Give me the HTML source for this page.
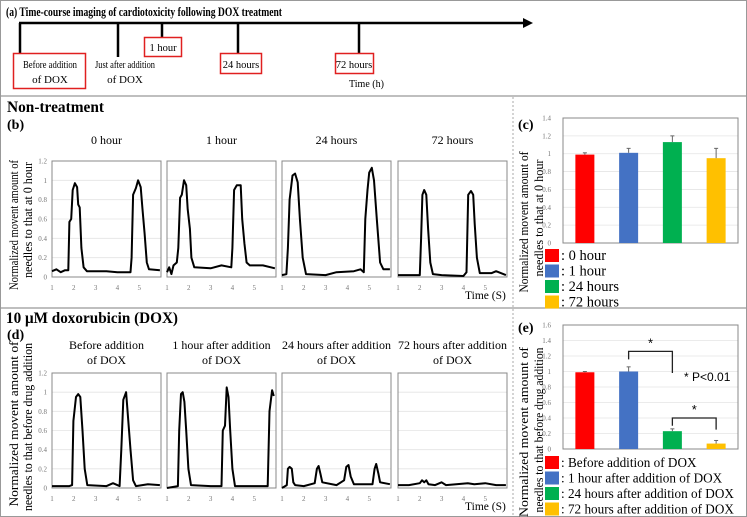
<!DOCTYPE html>
<html><head><meta charset="utf-8">
<style>
html,body{margin:0;padding:0;background:#fff;}
svg{display:block;font-family:"Liberation Serif",serif;}
</style></head>
<body>
<svg id="fig" width="747" height="517" viewBox="0 0 747 517">
  <rect x="0.5" y="0.5" width="746" height="516" fill="#fff" stroke="#999"/>
  <line x1="0" y1="96" x2="747" y2="96" stroke="#999" stroke-width="1.2"/>
  <line x1="0" y1="308" x2="747" y2="308" stroke="#999" stroke-width="1.2"/>
  <line x1="513" y1="97" x2="513" y2="517" stroke="#aaa" stroke-dasharray="2,2"/>
  <g>
    <text x="6" y="16" font-size="12.5" font-weight="bold" textLength="276" lengthAdjust="spacingAndGlyphs">(a) Time-course imaging of cardiotoxicity following DOX treatment</text>
    <line x1="19" y1="23" x2="525" y2="23" stroke="#000" stroke-width="2.5"/>
    <polygon points="523,18 533,23 523,28" fill="#000"/>
    <line x1="20" y1="23" x2="20" y2="53" stroke="#000" stroke-width="2.5"/>
    <line x1="118" y1="23" x2="118" y2="57" stroke="#000" stroke-width="2.5"/>
    <line x1="162" y1="23" x2="162" y2="37" stroke="#000" stroke-width="2.5"/>
    <line x1="238" y1="23" x2="238" y2="53" stroke="#000" stroke-width="2.5"/>
    <line x1="359" y1="23" x2="359" y2="53" stroke="#000" stroke-width="2.5"/>
    <rect x="13.5" y="53.5" width="72" height="35" fill="none" stroke="#e02020" stroke-width="1.5"/>
    <text x="50" y="68" font-size="11" text-anchor="middle" textLength="54" lengthAdjust="spacingAndGlyphs">Before addition</text>
    <text x="50" y="83" font-size="11" text-anchor="middle">of  DOX</text>
    <text x="125" y="68" font-size="11" text-anchor="middle" textLength="60" lengthAdjust="spacingAndGlyphs">Just after addition</text>
    <text x="125" y="83" font-size="11" text-anchor="middle">of DOX</text>
    <rect x="144.5" y="37.5" width="37" height="19" fill="none" stroke="#e02020" stroke-width="1.5"/>
    <text x="163" y="51" font-size="10.5" text-anchor="middle">1 hour</text>
    <rect x="220.5" y="53.5" width="41" height="20" fill="none" stroke="#e02020" stroke-width="1.5"/>
    <text x="241" y="68" font-size="10.5" text-anchor="middle">24 hours</text>
    <rect x="335.5" y="53.5" width="38" height="20" fill="none" stroke="#e02020" stroke-width="1.5"/>
    <text x="354" y="68" font-size="10.5" text-anchor="middle">72 hours</text>
    <text x="349" y="87" font-size="10">Time (h)</text>
  </g>
  <text x="7" y="112" font-size="16" font-weight="bold" textLength="97" lengthAdjust="spacingAndGlyphs">Non-treatment</text>
  <text x="7" y="129" font-size="14" font-weight="bold">(b)</text>
  <text x="6" y="323" font-size="16" font-weight="bold" textLength="172" lengthAdjust="spacingAndGlyphs">10 μM doxorubicin (DOX)</text>
  <text x="7" y="339" font-size="14" font-weight="bold">(d)</text>
  <text transform="translate(18,225) rotate(-90)" font-size="13" text-anchor="middle" textLength="130" lengthAdjust="spacingAndGlyphs">Normalized movent  amount of</text>
  <text transform="translate(32,220) rotate(-90)" font-size="13" text-anchor="middle" textLength="116" lengthAdjust="spacingAndGlyphs">needles to that at 0 hour</text>
  <text transform="translate(18,424) rotate(-90)" font-size="13" text-anchor="middle" textLength="165" lengthAdjust="spacingAndGlyphs">Normalized movent  amount of</text>
  <text transform="translate(32,427) rotate(-90)" font-size="13" text-anchor="middle" textLength="168" lengthAdjust="spacingAndGlyphs">needles to that before drug addition</text>
  <text x="465" y="299" font-size="11.5">Time (S)</text>
  <text x="465" y="510" font-size="11.5">Time (S)</text>
  <text x="518" y="129" font-size="14" font-weight="bold">(c)</text>
  <text transform="translate(528,222) rotate(-90)" font-size="13" text-anchor="middle" textLength="141" lengthAdjust="spacingAndGlyphs">Normalized movent  amount of</text>
  <text transform="translate(543,218) rotate(-90)" font-size="13" text-anchor="middle" textLength="117" lengthAdjust="spacingAndGlyphs">needles to that at 0 hour</text>
  <text x="518" y="332" font-size="14" font-weight="bold">(e)</text>
  <text transform="translate(528,432) rotate(-90)" font-size="13" text-anchor="middle" textLength="170" lengthAdjust="spacingAndGlyphs">Normalized movent  amount of</text>
  <text transform="translate(543,430) rotate(-90)" font-size="13" text-anchor="middle" textLength="165" lengthAdjust="spacingAndGlyphs">needles to that before drug addition</text>
  <g id="charts"></g>
</svg>
<script>
// ---- Trace data (time s, normalized value) ----
var traceB1 = [[1,0.06],[1.2,0.08],[1.4,0.05],[1.6,0.07],[1.75,0.07],[1.8,0.57],[1.88,0.6],[1.95,0.9],[2.05,0.97],[2.15,0.93],[2.2,0.75],[2.27,0.72],[2.35,0.3],[2.45,0.1],[2.6,0.06],[3,0.06],[3.5,0.06],[4,0.05],[4.6,0.05],[4.65,0.2],[4.72,0.85],[4.85,0.92],[4.95,1.0],[5.07,0.93],[5.15,0.7],[5.25,0.45],[5.35,0.15],[5.45,0.08],[5.95,0.07]];
var traceB2 = [[1,0.05],[1.1,0.1],[1.2,0.03],[1.3,0.12],[1.45,0.15],[1.52,0.3],[1.6,0.82],[1.68,0.85],[1.78,1.0],[1.88,0.95],[1.95,0.7],[2.05,0.5],[2.12,0.2],[2.25,0.1],[3,0.09],[3.5,0.12],[3.95,0.1],[4.0,0.3],[4.08,0.9],[4.2,0.95],[4.38,0.95],[4.45,0.6],[4.55,0.35],[4.65,0.15],[4.8,0.12],[5.4,0.12],[5.95,0.09]];
var traceB3 = [[1,0.02],[1.2,0.03],[1.27,0.3],[1.35,0.8],[1.48,1.05],[1.6,1.07],[1.72,0.98],[1.82,0.6],[1.95,0.2],[2.1,0.03],[3,0.02],[3.5,0.05],[4.3,0.06],[4.6,0.08],[4.75,0.05],[4.82,0.6],[4.92,0.9],[5.0,1.08],[5.12,1.13],[5.22,1.0],[5.35,0.6],[5.5,0.15],[5.65,0.08],[5.95,0.08]];
var traceB4 = [[1,0.02],[1.5,0.02],[2.0,0.02],[2.06,0.4],[2.12,0.85],[2.2,0.9],[2.3,0.85],[2.38,0.5],[2.48,0.15],[2.6,0.03],[3,0.02],[4,0.01],[4.14,0.05],[4.22,0.85],[4.35,0.89],[4.45,0.85],[4.52,0.55],[4.62,0.2],[4.75,0.04],[5.3,0.04],[5.5,0.06],[5.95,0.02]];
var traceD1 = [[1,0.02],[1.8,0.02],[1.92,0.03],[1.98,0.7],[2.1,0.95],[2.2,0.98],[2.3,0.95],[2.4,0.6],[2.5,0.2],[2.62,0.03],[3.5,0.02],[3.8,0.05],[4.1,0.02],[4.18,0.4],[4.27,0.92],[4.4,1.0],[4.5,0.7],[4.6,0.4],[4.72,0.08],[4.85,0.02],[5.4,0.04],[5.95,0.03]];
var traceD2 = [[1,0.0],[1.5,0.02],[1.56,0.6],[1.64,0.98],[1.72,1.0],[1.8,0.9],[1.88,0.6],[1.98,0.2],[2.1,0.03],[3,0.02],[3.5,0.02],[3.56,0.6],[3.66,0.65],[3.74,1.05],[3.82,0.95],[3.9,0.6],[4.0,0.2],[4.12,0.02],[5.62,0.02],[5.7,0.8],[5.82,1.02],[5.9,0.96]];
var traceD3 = [[1,0.0],[1.22,0.03],[1.27,0.2],[1.35,0.22],[1.45,0.2],[1.52,0.06],[1.6,0.03],[2.0,0.02],[2.5,0.05],[2.6,0.2],[2.68,0.23],[2.76,0.15],[2.85,0.06],[3.5,0.03],[3.85,0.08],[3.95,0.22],[4.05,0.24],[4.15,0.12],[4.3,0.04],[5.15,0.04],[5.25,0.2],[5.32,0.25],[5.42,0.15],[5.5,0.06],[5.95,0.04]];
var traceD4 = [[1,0.03],[1.5,0.03],[2.0,0.05],[2.1,0.08],[2.2,0.06],[2.3,0.08],[2.4,0.04],[2.7,0.03],[3.0,0.06],[3.2,0.03],[4.2,0.05],[4.5,0.04],[5.0,0.05],[5.5,0.03],[5.95,0.03]];
var titlesB = [["0 hour"],["1 hour"],["24 hours"],["72 hours"]];
var titlesD = [["Before addition","of DOX"],["1 hour after addition","of DOX"],["24 hours after addition","of DOX"],["72 hours after addition","of DOX"]];
var traceYTicks = [0,0.2,0.4,0.6,0.8,1,1.2];
var traceXTicks = [1,2,3,4,5];
// ---- Bar data ----
var barCategoriesC = ["0 hour","1 hour","24 hours","72 hours"];
var barValuesC = [0.99,1.01,1.13,0.95];
var barErrorsC = [0.02,0.05,0.07,0.11];
var barYTicksC = [0,0.2,0.4,0.6,0.8,1,1.2,1.4];
var barCategoriesE = ["Before addition of DOX","1 hour after addition of DOX","24 hours after addition of DOX","72 hours after addition of DOX"];
var barValuesE = [0.99,1.0,0.23,0.07];
var barErrorsE = [0.01,0.06,0.03,0.04];
var barYTicksE = [0,0.2,0.4,0.6,0.8,1,1.2,1.4,1.6];
var barColors = ["#ff0000","#4472c4","#00b050","#ffc000"];

var NS = "http://www.w3.org/2000/svg";
var root = document.getElementById("charts");
function mk(tag, attrs, parent){var e=document.createElementNS(NS,tag);for(var k in attrs)e.setAttribute(k,attrs[k]);(parent||root).appendChild(e);return e;}

function drawTrace(data, x0, top, bottom, title, name, showY){
  var w = 109, tMin=1, tMax=6.0, yMax=1.2;
  var sx = function(t){return x0 + (t-tMin)/(tMax-tMin)*w;};
  var sy = function(v){return bottom - v/yMax*(bottom-top);};
  var g = mk("g",{});
  
  
  traceYTicks.forEach(function(v){
    if(v>0 && v<yMax) mk("line",{x1:x0,x2:x0+w,y1:sy(v),y2:sy(v),stroke:"#e4e4e4","stroke-width":0.8},g);
    if(showY){var t=mk("text",{x:x0-5,y:sy(v)+2.5,"font-size":7,fill:"#777","text-anchor":"end"},g);t.textContent=v;}
  });
  mk("rect",{x:x0,y:top,width:w,height:bottom-top,fill:"none",stroke:"#888","stroke-width":1},g);
  traceXTicks.forEach(function(t){var tx=mk("text",{x:sx(t),y:bottom+13,"font-size":7,fill:"#777","text-anchor":"middle"},g);tx.textContent=t;});
  var d = data.map(function(p,i){return (i?"L":"M")+sx(p[0]).toFixed(1)+","+sy(p[1]).toFixed(1);}).join("");
  var path = mk("path",{d:d,fill:"none",stroke:"#000","stroke-width":2,"stroke-linejoin":"round"},g);
  
  
  var cy = title.length===1 ? top-17 : top-24;
  title.forEach(function(s,i){var tt=mk("text",{x:x0+w/2,y:cy+i*15,"font-size":12,"text-anchor":"middle"},g);tt.textContent=s;});
}
var xs=[52,167,282,398];
[traceB1,traceB2,traceB3,traceB4].forEach(function(d,i){drawTrace(d,xs[i],161,277,titlesB[i],"trace-b-"+(i+1),i===0);});
[traceD1,traceD2,traceD3,traceD4].forEach(function(d,i){drawTrace(d,xs[i],373,488,titlesD[i],"trace-d-"+(i+1),i===0);});

function drawBars(cats, vals, errs, ticks, x0, x1, top, bottom, name, legendY, legendFont){
  var yMax = ticks[ticks.length-1];
  var sy=function(v){return bottom - v/yMax*(bottom-top);};
  var bw=(x1-x0)/cats.length;
  var g=mk("g",{});
  
  
  ticks.forEach(function(v){
    if(v>0) mk("line",{x1:x0,x2:x1,y1:sy(v),y2:sy(v),stroke:"#e4e4e4","stroke-width":0.8},g);
    var t=mk("text",{x:x0-12,y:sy(v)+2.5,"font-size":7,fill:"#777","text-anchor":"end"},g);t.textContent=v;
  });
  mk("rect",{x:x0,y:top,width:x1-x0,height:bottom-top,fill:"none",stroke:"#888"},g);
  var centers=[];
  vals.forEach(function(v,i){
    var cx=x0+bw*(i+0.5); centers.push(cx);
    var r=mk("rect",{x:cx-9.5,y:sy(v),width:19,height:bottom-sy(v),fill:barColors[i]},g);
    
    
    mk("line",{x1:cx,x2:cx,y1:sy(v),y2:sy(v+errs[i]),stroke:"#666"},g);
    mk("line",{x1:cx-2,x2:cx+2,y1:sy(v+errs[i]),y2:sy(v+errs[i]),stroke:"#666"},g);
  });
  cats.forEach(function(c,i){
    var ly=legendY+i*15.5;
    var s=mk("rect",{x:545,y:ly-11,width:14,height:13,fill:barColors[i]},g);
    
    
    var t=mk("text",{x:561,y:ly,"font-size":legendFont},g);t.textContent=": "+c;
  });
  return {sy:sy,centers:centers,g:g};
}
var cChart = drawBars(barCategoriesC,barValuesC,barErrorsC,barYTicksC,563,738,118,243,"bar-chart-c",260,14.5);
var eChart = drawBars(barCategoriesE,barValuesE,barErrorsE,barYTicksE,563,738,325,449,"bar-chart-e",467,13.2);
(function(){
  var c=eChart.centers, sy=eChart.sy, g=eChart.g;
  var y1=sy(1.26);
  var b1=mk("path",{d:"M"+c[1]+","+(y1+8)+"V"+y1+"H"+c[2]+"V"+sy(0.98),fill:"none",stroke:"#222","stroke-width":1.3},g);
  
  
  var s1=mk("text",{x:(c[1]+c[2])/2,y:y1-4,"font-size":13,"text-anchor":"middle","font-family":"Liberation Sans"},g);s1.textContent="*";
  var y2=sy(0.4);
  var b2=mk("path",{d:"M"+c[2]+","+sy(0.3)+"V"+y2+"H"+c[3]+"V"+sy(0.25),fill:"none",stroke:"#222","stroke-width":1.3},g);
  
  
  var s2=mk("text",{x:(c[2]+c[3])/2,y:y2-4,"font-size":13,"text-anchor":"middle","font-family":"Liberation Sans"},g);s2.textContent="*";
  var p=mk("text",{x:684,y:381,"font-size":12,"font-family":"Liberation Sans"},g);p.textContent="* P<0.01";
  
  
})();
</script>
</body></html>
